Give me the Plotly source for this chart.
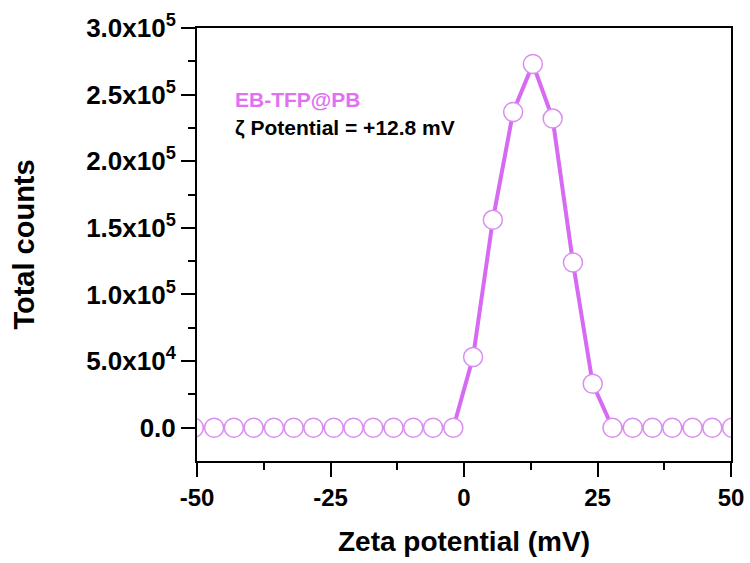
import plotly.graph_objects as go

# Zeta potential distribution (mV) and total counts
zeta_mv = [-50.6, -46.8, -43.1, -39.4, -35.6, -31.9, -28.2, -24.4, -20.7, -17.0,
           -13.2, -9.5, -5.8, -2.0, 1.7, 5.4, 9.2, 12.9, 16.6, 20.4,
           24.1, 27.8, 31.6, 35.3, 39.0, 42.8, 46.5, 50.2]
total_counts = [0, 0, 0, 0, 0, 0, 0, 0, 0, 0,
                0, 0, 0, 0, 53000, 156000, 237000, 273000, 232000, 124000,
                33000, 0, 0, 0, 0, 0, 0, 0]

y_tickvals = [0, 50000, 100000, 150000, 200000, 250000, 300000]
y_ticktext = ["0.0", "5.0x10<sup>4</sup>", "1.0x10<sup>5</sup>", "1.5x10<sup>5</sup>",
              "2.0x10<sup>5</sup>", "2.5x10<sup>5</sup>", "3.0x10<sup>5</sup>"]
y_minor = [25000, 75000, 125000, 175000, 225000, 275000]
x_tickvals = [-50, -25, 0, 25, 50]
x_ticktext = ["-50", "-25", "0", "25", "50"]

sample_name = "EB-TFP@PB"
zeta_label = "ζ Potential = +12.8 mV"

FONT = "Liberation Sans, Arial, sans-serif"
VIOLET = "#d66af2"
MARKER_EDGE = "#da8ff0"

fig = go.Figure()
fig.add_trace(go.Scatter(
    x=zeta_mv, y=total_counts,
    mode="lines+markers",
    line=dict(color=VIOLET, width=4),
    marker=dict(symbol="circle", size=19, color="white",
                line=dict(color=MARKER_EDGE, width=1.5)),
    cliponaxis=True,
    showlegend=False,
))

axis_common = dict(
    showline=True, linecolor="black", linewidth=2, mirror=True,
    ticks="outside", ticklen=14, tickwidth=2, tickcolor="black",
    showgrid=False, zeroline=False,
    automargin=False,
)

fig.update_xaxes(
    range=[-50, 50], tickmode="array", tickvals=x_tickvals, ticktext=x_ticktext,
    tickfont=dict(family=FONT, size=24, color="black", weight="bold"),
    minor=dict(ticks="outside", ticklen=7, tickwidth=2, tickcolor="black", dtick=12.5, tick0=-50),
    title=dict(text="Zeta potential (mV)", standoff=22,
               font=dict(family=FONT, size=28, color="black", weight="bold")),
    **axis_common,
)
fig.update_yaxes(
    range=[-25000, 300000], tickmode="array", tickvals=y_tickvals, ticktext=y_ticktext,
    tickfont=dict(family=FONT, size=26, color="black", weight="bold"),
    minor=dict(ticks="outside", ticklen=7, tickwidth=2, tickcolor="black", tickvals=y_minor),
    title=dict(text="Total counts", standoff=43,
               font=dict(family=FONT, size=29, color="black", weight="bold")),
    **axis_common,
)

fig.add_annotation(xref="paper", yref="paper", x=0.068, y=0.834,
                   xanchor="left", yanchor="middle", showarrow=False,
                   text=sample_name,
                   font=dict(family=FONT, size=21, color="#e072f2", weight="bold"))
fig.add_annotation(xref="paper", yref="paper", x=0.068, y=0.77,
                   xanchor="left", yanchor="middle", showarrow=False,
                   text=zeta_label,
                   font=dict(family=FONT, size=21, color="black", weight="bold"))

fig.update_layout(
    width=750, height=563,
    margin=dict(l=197, r=19, t=28, b=102),
    plot_bgcolor="white", paper_bgcolor="white",
)

fig.write_html("out.html")
